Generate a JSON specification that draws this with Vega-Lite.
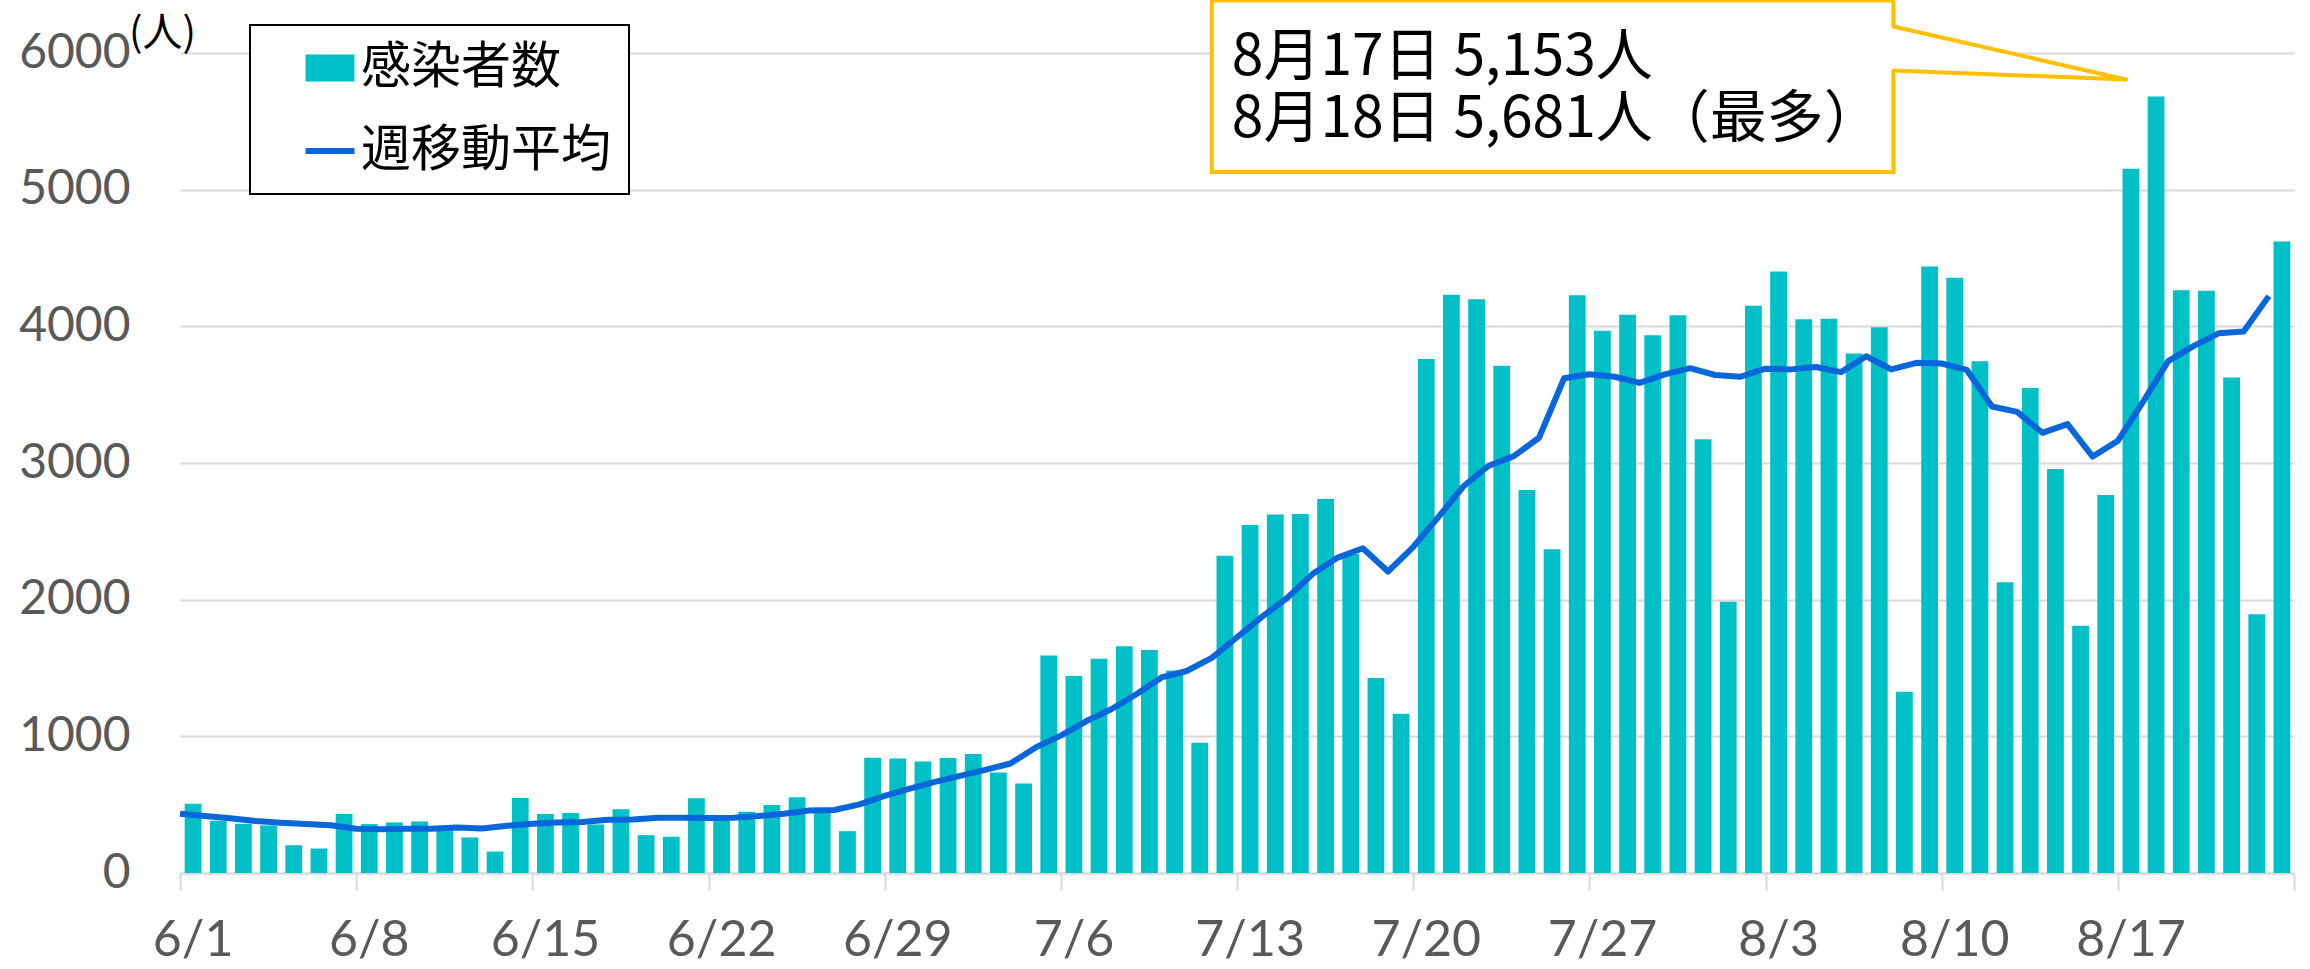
{
  "$schema": "https://vega.github.io/schema/vega-lite/v6.json",
  "width": 2114,
  "height": 820,
  "autosize": {"type": "none"},
  "padding": {"left": 180, "top": 53, "right": 16, "bottom": 96},
  "datasets": {
    "daily": [
      {"date": "2021-06-01", "cases": 507, "avg": 434},
      {"date": "2021-06-02", "cases": 382, "avg": 417},
      {"date": "2021-06-03", "cases": 360, "avg": 400},
      {"date": "2021-06-04", "cases": 348, "avg": 380},
      {"date": "2021-06-05", "cases": 203, "avg": 368},
      {"date": "2021-06-06", "cases": 179, "avg": 358},
      {"date": "2021-06-07", "cases": 431, "avg": 350},
      {"date": "2021-06-08", "cases": 358, "avg": 324},
      {"date": "2021-06-09", "cases": 370, "avg": 321},
      {"date": "2021-06-10", "cases": 377, "avg": 324},
      {"date": "2021-06-11", "cases": 330, "avg": 324},
      {"date": "2021-06-12", "cases": 260, "avg": 333},
      {"date": "2021-06-13", "cases": 157, "avg": 326},
      {"date": "2021-06-14", "cases": 549, "avg": 345},
      {"date": "2021-06-15", "cases": 431, "avg": 360},
      {"date": "2021-06-16", "cases": 439, "avg": 370},
      {"date": "2021-06-17", "cases": 355, "avg": 373},
      {"date": "2021-06-18", "cases": 467, "avg": 390},
      {"date": "2021-06-19", "cases": 277, "avg": 392},
      {"date": "2021-06-20", "cases": 265, "avg": 404},
      {"date": "2021-06-21", "cases": 547, "avg": 404},
      {"date": "2021-06-22", "cases": 392, "avg": 402},
      {"date": "2021-06-23", "cases": 449, "avg": 404},
      {"date": "2021-06-24", "cases": 498, "avg": 417},
      {"date": "2021-06-25", "cases": 554, "avg": 434},
      {"date": "2021-06-26", "cases": 450, "avg": 458},
      {"date": "2021-06-27", "cases": 306, "avg": 461},
      {"date": "2021-06-28", "cases": 843, "avg": 502},
      {"date": "2021-06-29", "cases": 838, "avg": 564},
      {"date": "2021-06-30", "cases": 816, "avg": 618},
      {"date": "2021-07-01", "cases": 841, "avg": 667},
      {"date": "2021-07-02", "cases": 870, "avg": 711},
      {"date": "2021-07-03", "cases": 735, "avg": 755},
      {"date": "2021-07-04", "cases": 654, "avg": 801},
      {"date": "2021-07-05", "cases": 1591, "avg": 919},
      {"date": "2021-07-06", "cases": 1441, "avg": 1005},
      {"date": "2021-07-07", "cases": 1567, "avg": 1110},
      {"date": "2021-07-08", "cases": 1660, "avg": 1198},
      {"date": "2021-07-09", "cases": 1632, "avg": 1308},
      {"date": "2021-07-10", "cases": 1481, "avg": 1431},
      {"date": "2021-07-11", "cases": 953, "avg": 1478},
      {"date": "2021-07-12", "cases": 2321, "avg": 1574},
      {"date": "2021-07-13", "cases": 2547, "avg": 1725},
      {"date": "2021-07-14", "cases": 2624, "avg": 1876},
      {"date": "2021-07-15", "cases": 2626, "avg": 2014},
      {"date": "2021-07-16", "cases": 2736, "avg": 2187},
      {"date": "2021-07-17", "cases": 2335, "avg": 2308},
      {"date": "2021-07-18", "cases": 1426, "avg": 2376},
      {"date": "2021-07-19", "cases": 1165, "avg": 2206},
      {"date": "2021-07-20", "cases": 3761, "avg": 2385},
      {"date": "2021-07-21", "cases": 4232, "avg": 2604},
      {"date": "2021-07-22", "cases": 4198, "avg": 2830},
      {"date": "2021-07-23", "cases": 3712, "avg": 2980},
      {"date": "2021-07-24", "cases": 2802, "avg": 3050},
      {"date": "2021-07-25", "cases": 2368, "avg": 3185},
      {"date": "2021-07-26", "cases": 4228, "avg": 3620},
      {"date": "2021-07-27", "cases": 3968, "avg": 3650},
      {"date": "2021-07-28", "cases": 4085, "avg": 3631},
      {"date": "2021-07-29", "cases": 3935, "avg": 3586},
      {"date": "2021-07-30", "cases": 4081, "avg": 3648},
      {"date": "2021-07-31", "cases": 3174, "avg": 3694},
      {"date": "2021-08-01", "cases": 1984, "avg": 3644},
      {"date": "2021-08-02", "cases": 4151, "avg": 3631},
      {"date": "2021-08-03", "cases": 4401, "avg": 3690},
      {"date": "2021-08-04", "cases": 4052, "avg": 3685},
      {"date": "2021-08-05", "cases": 4056, "avg": 3702},
      {"date": "2021-08-06", "cases": 3802, "avg": 3665},
      {"date": "2021-08-07", "cases": 3993, "avg": 3781},
      {"date": "2021-08-08", "cases": 1327, "avg": 3685},
      {"date": "2021-08-09", "cases": 4438, "avg": 3733},
      {"date": "2021-08-10", "cases": 4355, "avg": 3728},
      {"date": "2021-08-11", "cases": 3745, "avg": 3681},
      {"date": "2021-08-12", "cases": 2128, "avg": 3413},
      {"date": "2021-08-13", "cases": 3549, "avg": 3374},
      {"date": "2021-08-14", "cases": 2957, "avg": 3221},
      {"date": "2021-08-15", "cases": 1809, "avg": 3285},
      {"date": "2021-08-16", "cases": 2766, "avg": 3047},
      {"date": "2021-08-17", "cases": 5153, "avg": 3162},
      {"date": "2021-08-18", "cases": 5681, "avg": 3447},
      {"date": "2021-08-19", "cases": 4264, "avg": 3745},
      {"date": "2021-08-20", "cases": 4260, "avg": 3855},
      {"date": "2021-08-21", "cases": 3626, "avg": 3949},
      {"date": "2021-08-22", "cases": 1894, "avg": 3962},
      {"date": "2021-08-23", "cases": 4621, "avg": 4221}
    ],
    "box": [
      {"start": "2021-07-12T00:00:00Z", "end": "2021-08-08T02:00:00Z", "top": 6385, "bottom": 5129}
    ],
    "tri": [
      {"date": "2021-08-07T22:00:00Z", "top": 6194, "bottom": 5872},
      {"date": "2021-08-17T07:40:00Z", "top": 5806, "bottom": 5806}
    ],
    "ptr": [
      {"from": "2021-08-08T02:00:00Z", "to": "2021-08-17T07:40:00Z", "ya": 6194, "yb": 5806},
      {"from": "2021-08-08T02:00:00Z", "to": "2021-08-17T07:40:00Z", "ya": 5872, "yb": 5806}
    ],
    "note": [
      {"date": "2021-07-12T19:00:00Z", "value": 5963, "label": "8月17日 5,153人\n8月18日 5,681人（最多）"}
    ]
  },
  "layer": [
    {
      "data": {"name": "daily"},
      "mark": {"type": "bar", "binSpacing": 0, "xOffset": -4.2, "x2Offset": 4.2},
      "encoding": {
        "x": {
          "field": "date", "type": "temporal", "timeUnit": "utcyearmonthdate", "title": null,
          "scale": {"type": "utc", "nice": false, "domain": [
            {"year": 2021, "month": 6, "date": 1, "utc": true},
            {"year": 2021, "month": 8, "date": 24, "utc": true}
          ]},
          "axis": {
            "values": [
              {"year": 2021, "month": 6, "date": 1, "utc": true},
              {"year": 2021, "month": 6, "date": 8, "utc": true},
              {"year": 2021, "month": 6, "date": 15, "utc": true},
              {"year": 2021, "month": 6, "date": 22, "utc": true},
              {"year": 2021, "month": 6, "date": 29, "utc": true},
              {"year": 2021, "month": 7, "date": 6, "utc": true},
              {"year": 2021, "month": 7, "date": 13, "utc": true},
              {"year": 2021, "month": 7, "date": 20, "utc": true},
              {"year": 2021, "month": 7, "date": 27, "utc": true},
              {"year": 2021, "month": 8, "date": 3, "utc": true},
              {"year": 2021, "month": 8, "date": 10, "utc": true},
              {"year": 2021, "month": 8, "date": 17, "utc": true},
              {"year": 2021, "month": 8, "date": 24, "utc": true}
            ],
            "labelExpr": "(utcmonth(datum.value) == 7 && utcdate(datum.value) == 24) ? '' : utcFormat(datum.value, '%-m/%-d')"
          }
        },
        "y": {
          "field": "cases", "type": "quantitative", "title": "(人)",
          "scale": {"domain": [0, 6000], "nice": false},
          "axis": {"values": [0, 1000, 2000, 3000, 4000, 5000, 6000], "format": "d"}
        },
        "color": {
          "datum": "感染者数", "type": "nominal",
          "scale": {"domain": ["感染者数", "週移動平均"], "range": ["#00C0C7", "#0866DB"]},
          "legend": {
            "title": null, "orient": "none", "legendX": 70, "legendY": -28,
            "padding": 18, "rowPadding": 33, "labelFontSize": 50, "labelFont": "Noto Sans CJK JP",
            "labelColor": "#000000", "labelLimit": 500, "symbolSize": 2401, "symbolOffset": 37,
            "labelOffset": 6, "fillColor": "#ffffff", "strokeColor": "#000000",
            "encode": {
              "legend": {"update": {"strokeWidth": {"value": 2}}},
              "symbols": {"update": {
                "shape": {"signal": "datum.value === '感染者数' ? 'M-1,-0.55L1,-0.55L1,0.55L-1,0.55Z' : 'stroke'"},
                "strokeWidth": {"signal": "datum.value === '感染者数' ? 0 : 6"},
                "fill": {"scale": "color", "field": "value"},
                "stroke": {"scale": "color", "field": "value"},
                "opacity": {"value": 1}
              }}
            }
          }
        }
      }
    },
    {
      "data": {"name": "daily"},
      "mark": {"type": "line", "strokeWidth": 6, "strokeJoin": "round", "timeUnitBandPosition": 0.5},
      "encoding": {
        "x": {"field": "date", "type": "temporal", "timeUnit": "utcyearmonthdate", "title": null},
        "y": {"field": "avg", "type": "quantitative", "title": "(人)"},
        "color": {"datum": "週移動平均", "type": "nominal"}
      }
    },
    {
      "data": {"name": "box"},
      "mark": {"type": "rect", "fill": "#ffffff", "stroke": "#FFC000", "strokeWidth": 4},
      "encoding": {
        "x": {"field": "start", "type": "temporal", "title": null},
        "x2": {"field": "end"},
        "y": {"field": "top", "type": "quantitative", "title": "(人)"},
        "y2": {"field": "bottom"}
      }
    },
    {
      "data": {"name": "tri"},
      "mark": {"type": "area", "fill": "#ffffff", "opacity": 1},
      "encoding": {
        "x": {"field": "date", "type": "temporal", "title": null},
        "y": {"field": "top", "type": "quantitative", "title": "(人)"},
        "y2": {"field": "bottom"}
      }
    },
    {
      "data": {"name": "ptr"},
      "mark": {"type": "rule", "stroke": "#FFC000", "strokeWidth": 4, "strokeCap": "round"},
      "encoding": {
        "x": {"field": "from", "type": "temporal", "title": null},
        "x2": {"field": "to"},
        "y": {"field": "ya", "type": "quantitative", "title": "(人)"},
        "y2": {"field": "yb"}
      }
    },
    {
      "data": {"name": "note"},
      "mark": {"type": "text", "align": "left", "baseline": "middle", "lineBreak": "\n", "lineHeight": 62, "font": "Noto Sans CJK JP", "fontSize": 57, "color": "#000000"},
      "encoding": {
        "x": {"field": "date", "type": "temporal", "title": null},
        "y": {"field": "value", "type": "quantitative", "title": "(人)"},
        "text": {"field": "label"}
      }
    }
  ],
  "config": {
    "view": {"stroke": null},
    "font": "Lato",
    "axis": {
      "labelColor": "#595959", "labelFont": "Lato",
      "gridColor": "#D9D9D9", "gridWidth": 2,
      "domainColor": "#D9D9D9", "domainWidth": 2,
      "tickColor": "#D9D9D9", "tickWidth": 2
    },
    "axisX": {
      "grid": false, "tickSize": 17, "labelFontSize": 50, "labelPadding": 25,
      "labelFlush": false, "labelOverlap": false, "labelOffset": 12.6
    },
    "axisY": {
      "domain": false, "ticks": false, "tickSize": 0, "labelFontSize": 48, "labelPadding": 50,
      "titleAngle": 0, "titleX": -18, "titleY": -20, "titleAlign": "center", "titleBaseline": "middle",
      "titleFont": "Noto Sans CJK JP", "titleFontSize": 40, "titleFontWeight": "normal", "titleColor": "#000000"
    }
  }
}
